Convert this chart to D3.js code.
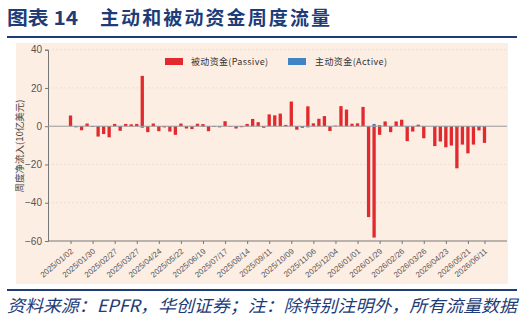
<!DOCTYPE html>
<html>
<head>
<meta charset="utf-8">
<script src="https://cdn.jsdelivr.net/npm/d3@7"></script>
<style>
  body { margin: 0; background: #fff; }
  svg { display: block; }
  text { font-family: "Noto Sans CJK SC", "Noto Sans", sans-serif; }
</style>
</head>
<body>
<svg id="svg1" width="524" height="321"></svg>
<script>
// weekly flows, $bn, first week 2025/01/02
var passive = [5.6, 0, -2.1, 1.4, -0.3, -5.4, -4.1, -5.8, 1.2, -2.4,
               1.2, 1.0, 1.2, 26.3, -3.1, 1.4, -2.6, -0.6, -2.8, -4.5,
               1.4, -1.2, -1.5, 1.3, 1.1, -2.6, -0.2, -0.1, 2.6, -0.3,
               -1.2, -0.5, 1.2, 3.8, 2.1, -0.8, 6.2, 5.7, 6.6, 0.7,
               12.9, -1.8, -0.8, 10.4, 1.5, 3.9, 5.3, -2.5, 0.3, 10.5,
               8.7, 1.3, 1.5, 10.1, -47.5, -58.2, -4.5, 2.5, -3.1, 2.5,
               3.4, -7.8, -2.8, 0.8, -6.3, 0, -10.4, -8.0, -11.0, -10.1,
               -22.0, -9.6, -14.2, -9.6, -2.2, -8.7];
var active = [0, -0.6, 0, 0, -0.4, -0.4, 0, 0, 0, -0.4,
              0, 0, 0, -0.8, 0, 0, 0, 0, 0, 0,
              0, 0, 0, 0, -0.3, 0, -0.4, -0.6, 0, 0,
              -0.3, 0, 0, 0, 0, 0, 0, 0, 0, 0,
              0, 0, -0.5, -0.6, 0, 0, 0, 0, 0, 0,
              0, 0, 0, 0, 0, 1.2, 0.6, 0, 0, 0,
              0, -0.6, 0, 0, -0.3, 0, -0.5, 0, -0.7, 0,
              -0.8, 0, 0, -0.6, -0.4, -0.6];
var tickLabels = ["2025/01/02", "2025/01/30", "2025/02/27", "2025/03/27", "2025/04/24",
                  "2025/05/22", "2025/06/19", "2025/07/17", "2025/08/14", "2025/09/11",
                  "2025/10/09", "2025/11/06", "2025/12/04", "2026/01/01", "2026/01/29",
                  "2026/02/26", "2026/03/26", "2026/04/23", "2026/05/21", "2026/06/11"];
var yTicks = [40, 20, 0, -20, -40, -60];
var seriesNames = ["被动资金(Passive)", "主动资金(Active)"];

var fmt = d3.timeFormat("%Y/%m/%d");
var start = new Date(2025, 0, 2);
var weeks = passive.map(function(d, i) { return fmt(d3.timeWeek.offset(start, i)); });

var svg = d3.select("#svg1");
var navy = "#1d3c78";
var red = "#e1292e", blue = "#3f84c5";

// title
svg.append("text").attr("x", 7).attr("y", 25).attr("fill", navy)
  .attr("font-size", 19).attr("font-weight", "bold")
  .attr("textLength", 71).attr("lengthAdjust", "spacingAndGlyphs").text("图表 14");
svg.append("text").attr("x", 100).attr("y", 25).attr("fill", navy)
  .attr("font-size", 19).attr("font-weight", "bold")
  .attr("textLength", 230).attr("lengthAdjust", "spacing").text("主动和被动资金周度流量");
svg.append("rect").attr("x", 7).attr("y", 36).attr("width", 510).attr("height", 2).attr("fill", navy);

// chart background
svg.append("rect").attr("x", 16).attr("y", 43).attr("width", 492).attr("height", 241).attr("fill", "#fdeee4");

// footer
svg.append("rect").attr("x", 7).attr("y", 289).attr("width", 510).attr("height", 2).attr("fill", navy);
svg.append("text").attr("x", 7).attr("y", 312).attr("fill", navy)
  .attr("font-size", 17).attr("font-style", "italic")
  .attr("textLength", 510).attr("lengthAdjust", "spacingAndGlyphs")
  .text("资料来源：EPFR，华创证券；注：除特别注明外，所有流量数据");

// scales
var scaleX = d3.scalePoint().domain(weeks).range([48, 507]).padding(4.08);
var scaleY = d3.scaleLinear().domain([-60, 40]).range([241, 49.7]);
var bw = 3.3;

var gContainer = svg.append("g");

// grid
gContainer.selectAll(".grid").data(yTicks.filter(function(d) { return d != 0 && d != -60; }))
  .enter().append("line")
  .attr("x1", 48).attr("x2", 507)
  .attr("y1", function(d) { return scaleY(d); }).attr("y2", function(d) { return scaleY(d); })
  .attr("stroke", "#ead9cd").attr("stroke-width", 0.8).attr("stroke-dasharray", "2,2");

// y axis
var axisY = d3.axisLeft(scaleY).tickValues(yTicks).tickSize(3).tickPadding(3)
  .tickFormat(function(d) { return d < 0 ? "\u2212" + Math.abs(d) : d; });
var gAxisY = gContainer.append("g").attr("transform", "translate(48,0)").call(axisY);
gAxisY.select(".domain").attr("stroke", "#777");
gAxisY.selectAll(".tick line").attr("stroke", "#777");
gAxisY.selectAll("text").attr("fill", "#555").attr("font-size", 10)
  .style("font-family", "'Liberation Sans', sans-serif");

// x axis
var axisX = d3.axisBottom(scaleX).tickValues(tickLabels).tickSize(3).tickSizeOuter(0);
var gAxisX = gContainer.append("g").attr("transform", "translate(0,241)").call(axisX);
gAxisX.select(".domain").attr("stroke", "#777").attr("d", "M48,0H507");
gAxisX.selectAll(".tick line").attr("stroke", "#777");
gAxisX.selectAll("text").attr("fill", "#555").attr("font-size", 8)
  .style("font-family", "'Liberation Sans', sans-serif")
  .attr("text-anchor", "end").attr("y", 0).attr("dy", "0.35em")
  .attr("transform", "translate(1,9) rotate(-40)");

// y label
svg.append("text").attr("transform", "translate(23,146) rotate(-90)")
  .attr("text-anchor", "middle").attr("fill", "#444").attr("font-size", 9.5)
  .text("周度净流入(10亿美元)");

// bars
gContainer.selectAll(".pbar").data(passive).enter().append("rect")
  .attr("x", function(d, i) { return scaleX(weeks[i]) - bw / 2; })
  .attr("y", function(d) { return scaleY(Math.max(0, d)); })
  .attr("width", bw)
  .attr("height", function(d) { return Math.abs(scaleY(d) - scaleY(0)); })
  .attr("fill", red);
gContainer.selectAll(".abar").data(active).enter().append("rect")
  .attr("x", function(d, i) { return scaleX(weeks[i]) - bw / 2; })
  .attr("y", function(d) { return scaleY(Math.max(0, d)); })
  .attr("width", bw)
  .attr("height", function(d) { return Math.abs(scaleY(d) - scaleY(0)); })
  .attr("fill", blue);

// zero line
gContainer.append("line").attr("x1", 48).attr("x2", 507)
  .attr("y1", scaleY(0)).attr("y2", scaleY(0))
  .attr("stroke", "#9a9a9a").attr("stroke-width", 1);

// legend
var legend = svg.append("g");
legend.append("rect").attr("x", 165).attr("y", 58).attr("width", 18).attr("height", 7).attr("fill", red);
legend.append("text").attr("x", 191).attr("y", 65).attr("font-size", 9).attr("fill", "#333")
  .attr("textLength", 77).attr("lengthAdjust", "spacing").text(seriesNames[0]);
legend.append("rect").attr("x", 288).attr("y", 58).attr("width", 18).attr("height", 7).attr("fill", blue);
legend.append("text").attr("x", 315).attr("y", 65).attr("font-size", 9).attr("fill", "#333")
  .attr("textLength", 72).attr("lengthAdjust", "spacing").text(seriesNames[1]);
</script>
</body>
</html>
